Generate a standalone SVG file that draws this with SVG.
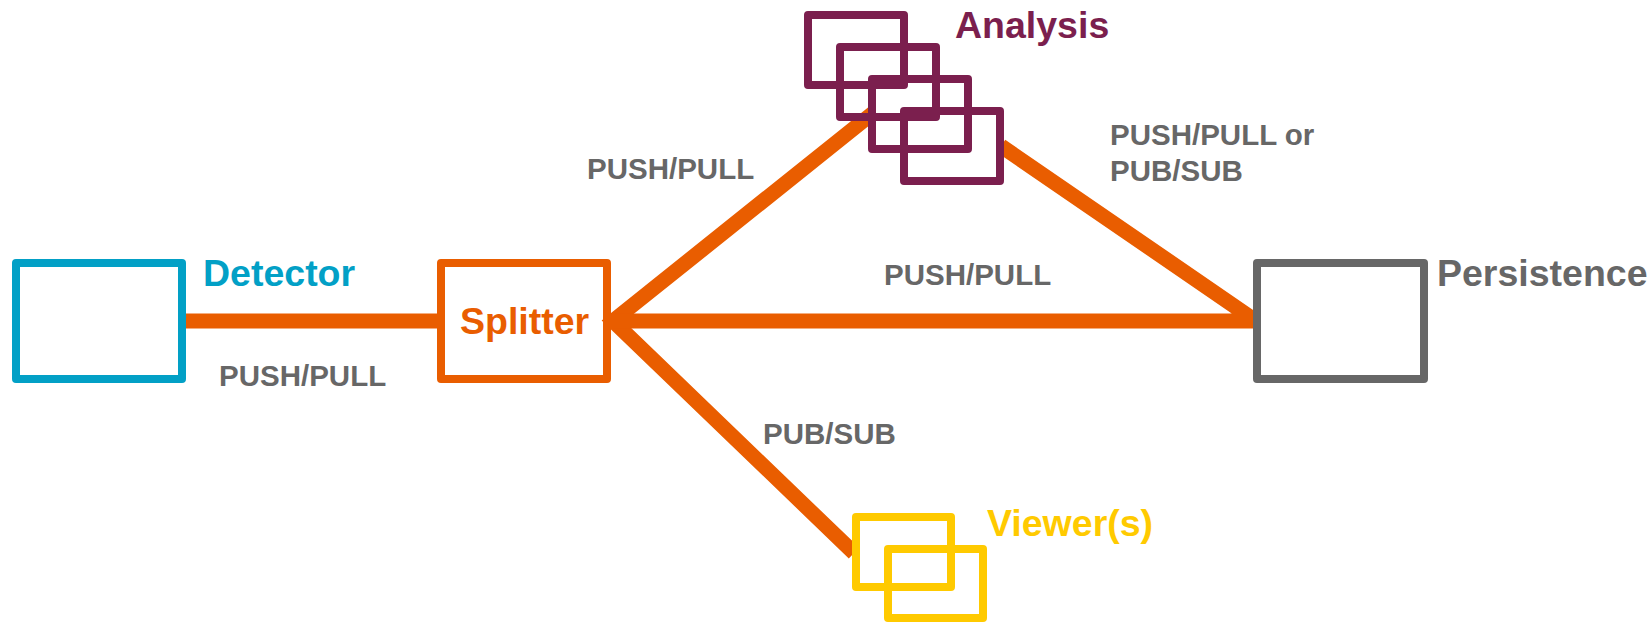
<svg xmlns="http://www.w3.org/2000/svg" width="1649" height="623" viewBox="0 0 1649 623">
<style>
.lbl{font-family:"Liberation Sans",Arial,sans-serif;font-weight:bold;font-size:29.5px;fill:#676767}
.ttl{font-family:"Liberation Sans",Arial,sans-serif;font-weight:bold;font-size:37.5px}
.conn{fill:none;stroke:#E95D00;stroke-width:15;stroke-linejoin:miter;stroke-linecap:butt}
.box{stroke-width:8;stroke-linejoin:round}
</style>
<rect width="1649" height="623" fill="#ffffff"/>
<g id="connectors">
<line class="conn" x1="184" y1="321" x2="440" y2="321"/>
<path class="conn" d="M873,113 L613,321 L854,553"/>
<path class="conn" d="M613,321 L1256,321 L1001,146"/>
</g>
<g id="detector">
<rect class="box" x="16" y="263" width="166" height="116" fill="#ffffff" stroke="#02A0C6"/>
<text class="ttl" x="203" y="286" fill="#02A0C6">Detector</text>
</g>
<g id="splitter">
<rect class="box" x="441" y="263" width="166" height="116" fill="none" stroke="#E95D00"/>
<text class="ttl" x="460" y="334" fill="#E95D00">Splitter</text>
</g>
<g id="persistence">
<rect class="box" x="1257" y="263" width="167" height="116" fill="#ffffff" stroke="#676767"/>
<text class="ttl" x="1437" y="286" fill="#676767">Persistence</text>
</g>
<g id="analysis">
<rect class="box" x="808" y="15" width="96" height="70" fill="none" stroke="#7B1F4E"/>
<rect class="box" x="840" y="47" width="96" height="70" fill="none" stroke="#7B1F4E"/>
<rect class="box" x="872" y="79" width="96" height="70" fill="none" stroke="#7B1F4E"/>
<rect class="box" x="904" y="111" width="96" height="70" fill="none" stroke="#7B1F4E"/>
<text class="ttl" x="955" y="38" fill="#7B1F4E">Analysis</text>
</g>
<g id="viewers">
<rect class="box" x="856" y="517" width="95" height="70" fill="none" stroke="#FFCA00"/>
<rect class="box" x="888" y="549" width="95" height="69" fill="none" stroke="#FFCA00"/>
<text class="ttl" x="987" y="536" fill="#FFCA00">Viewer(s)</text>
</g>
<g id="labels">
<text class="lbl" x="219" y="386">PUSH/PULL</text>
<text class="lbl" x="587" y="179">PUSH/PULL</text>
<text class="lbl" x="1110" y="145">PUSH/PULL or</text>
<text class="lbl" x="1110" y="181">PUB/SUB</text>
<text class="lbl" x="884" y="285">PUSH/PULL</text>
<text class="lbl" x="763" y="444">PUB/SUB</text>
</g>
</svg>
